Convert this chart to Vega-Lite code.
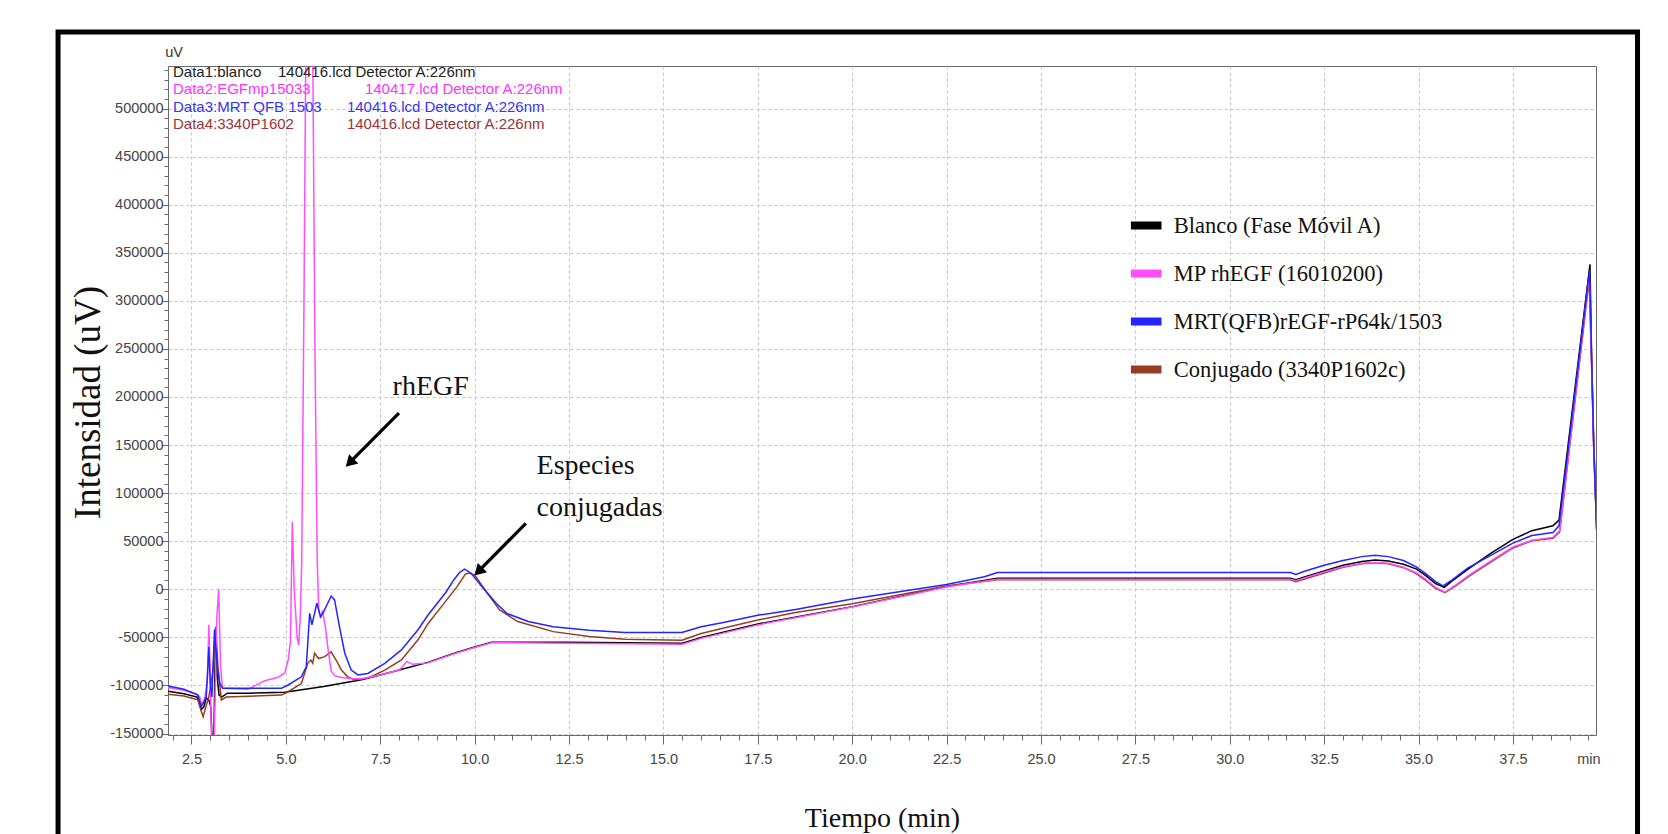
{
  "$schema": "https://vega.github.io/schema/vega-lite/v6.json",
  "width": 1428,
  "height": 669,
  "autosize": {"type": "none"},
  "padding": {"left": 168, "top": 66, "right": 72, "bottom": 99},
  "background": "white",
  "config": {
    "font": "Liberation Sans",
    "view": {"stroke": "#6a6a6a", "strokeWidth": 1}
  },
  "resolve": {"axis": {"x": "independent", "y": "independent"}},
  "layer": [
    {
      "data": {"values": [{}]},
      "mark": {"type": "rect", "filled": false, "stroke": "black", "strokeWidth": 5, "clip": false, "fill": "transparent"},
      "encoding": {
        "x": {"datum": -1.034, "type": "quantitative", "axis": null},
        "x2": {"datum": 40.8},
        "y": {"datum": 579600, "type": "quantitative", "axis": null},
        "y2": {"datum": -271000}
      }
    },
    {
      "data": {"values": [
        {"s":"B","t":1.88,"v":-106000},{"s":"B","t":2.3,"v":-108500},{"s":"B","t":2.65,"v":-112000},{"s":"B","t":2.76,"v":-125000},{"s":"B","t":2.83,"v":-122000},{"s":"B","t":2.89,"v":-113000},{"s":"B","t":2.96,"v":-115000},{"s":"B","t":3.01,"v":-122000},{"s":"B","t":3.05,"v":-160000},{"s":"B","t":3.09,"v":-160000},{"s":"B","t":3.14,"v":-40000},{"s":"B","t":3.18,"v":-90000},{"s":"B","t":3.23,"v":-110000},{"s":"B","t":3.3,"v":-112000},{"s":"B","t":3.45,"v":-108000},{"s":"B","t":4.0,"v":-108000},{"s":"B","t":4.97,"v":-107000},{"s":"B","t":6.0,"v":-101000},{"s":"B","t":7.0,"v":-94000},{"s":"B","t":7.5,"v":-89000},{"s":"B","t":8.0,"v":-84000},{"s":"B","t":8.76,"v":-76000},{"s":"B","t":9.5,"v":-66000},{"s":"B","t":10.0,"v":-60000},{"s":"B","t":10.45,"v":-55000},{"s":"B","t":12.5,"v":-55000},{"s":"B","t":15.5,"v":-56000},{"s":"B","t":16.0,"v":-50000},{"s":"B","t":17.5,"v":-36000},{"s":"B","t":20.0,"v":-18000},{"s":"B","t":22.5,"v":3000},{"s":"B","t":23.85,"v":11500},{"s":"B","t":31.6,"v":11500},{"s":"B","t":31.75,"v":10000},{"s":"B","t":32.0,"v":13000},{"s":"B","t":32.5,"v":19000},{"s":"B","t":33.0,"v":25000},{"s":"B","t":33.5,"v":29000},{"s":"B","t":33.85,"v":30500},{"s":"B","t":34.2,"v":29500},{"s":"B","t":34.6,"v":26000},{"s":"B","t":34.95,"v":21000},{"s":"B","t":35.2,"v":14000},{"s":"B","t":35.45,"v":6000},{"s":"B","t":35.68,"v":2000},{"s":"B","t":35.9,"v":9000},{"s":"B","t":36.35,"v":22000},{"s":"B","t":36.9,"v":37000},{"s":"B","t":37.5,"v":52000},{"s":"B","t":38.0,"v":61000},{"s":"B","t":38.56,"v":66000},{"s":"B","t":38.72,"v":72000},{"s":"B","t":39.54,"v":338000},{"s":"B","t":39.58,"v":250000},{"s":"B","t":39.64,"v":150000},{"s":"B","t":39.72,"v":60000},
        {"s":"C","t":1.88,"v":-109000},{"s":"C","t":2.3,"v":-111000},{"s":"C","t":2.67,"v":-115000},{"s":"C","t":2.76,"v":-127000},{"s":"C","t":2.81,"v":-132500},{"s":"C","t":2.88,"v":-122000},{"s":"C","t":2.96,"v":-112000},{"s":"C","t":3.07,"v":-84000},{"s":"C","t":3.14,"v":-39000},{"s":"C","t":3.2,"v":-80000},{"s":"C","t":3.29,"v":-115000},{"s":"C","t":3.42,"v":-112000},{"s":"C","t":4.88,"v":-110000},{"s":"C","t":5.06,"v":-106500},{"s":"C","t":5.41,"v":-98000},{"s":"C","t":5.58,"v":-77000},{"s":"C","t":5.66,"v":-73500},{"s":"C","t":5.71,"v":-77000},{"s":"C","t":5.76,"v":-66500},{"s":"C","t":5.87,"v":-72000},{"s":"C","t":6.03,"v":-70000},{"s":"C","t":6.2,"v":-65000},{"s":"C","t":6.33,"v":-73500},{"s":"C","t":6.47,"v":-84000},{"s":"C","t":6.64,"v":-91000},{"s":"C","t":6.82,"v":-94000},{"s":"C","t":7.17,"v":-92500},{"s":"C","t":7.62,"v":-84000},{"s":"C","t":8.06,"v":-73500},{"s":"C","t":8.5,"v":-52500},{"s":"C","t":8.76,"v":-36000},{"s":"C","t":9.0,"v":-24000},{"s":"C","t":9.24,"v":-12000},{"s":"C","t":9.53,"v":2500},{"s":"C","t":9.76,"v":16000},{"s":"C","t":9.85,"v":17000},{"s":"C","t":10.0,"v":15000},{"s":"C","t":10.28,"v":-1000},{"s":"C","t":10.66,"v":-21500},{"s":"C","t":11.14,"v":-33500},{"s":"C","t":12.08,"v":-44000},{"s":"C","t":13.03,"v":-49000},{"s":"C","t":13.98,"v":-52000},{"s":"C","t":15.49,"v":-53000},{"s":"C","t":16.0,"v":-46000},{"s":"C","t":16.52,"v":-41000},{"s":"C","t":17.5,"v":-32000},{"s":"C","t":18.5,"v":-24000},{"s":"C","t":20.0,"v":-15000},{"s":"C","t":22.5,"v":3500},{"s":"C","t":23.85,"v":10000},{"s":"C","t":31.6,"v":10000},{"s":"C","t":31.75,"v":8000},{"s":"C","t":32.0,"v":11000},{"s":"C","t":32.5,"v":17000},{"s":"C","t":33.0,"v":23000},{"s":"C","t":33.5,"v":26500},{"s":"C","t":33.85,"v":27500},{"s":"C","t":34.2,"v":26500},{"s":"C","t":34.6,"v":22500},{"s":"C","t":34.95,"v":16000},{"s":"C","t":35.2,"v":9000},{"s":"C","t":35.45,"v":1000},{"s":"C","t":35.7,"v":-3500},{"s":"C","t":36.0,"v":4000},{"s":"C","t":36.35,"v":14000},{"s":"C","t":36.9,"v":28000},{"s":"C","t":37.5,"v":43000},{"s":"C","t":38.0,"v":50500},{"s":"C","t":38.56,"v":53000},{"s":"C","t":38.74,"v":60000},{"s":"C","t":39.52,"v":322000},{"s":"C","t":39.58,"v":238000},{"s":"C","t":39.64,"v":148000},{"s":"C","t":39.72,"v":60000},
        {"s":"M","t":1.88,"v":-102000},{"s":"M","t":2.3,"v":-105000},{"s":"M","t":2.65,"v":-109000},{"s":"M","t":2.72,"v":-112000},{"s":"M","t":2.77,"v":-120000},{"s":"M","t":2.85,"v":-114000},{"s":"M","t":2.92,"v":-95000},{"s":"M","t":2.96,"v":-37000},{"s":"M","t":3.0,"v":-95000},{"s":"M","t":3.03,"v":-160000},{"s":"M","t":3.1,"v":-160000},{"s":"M","t":3.17,"v":-30000},{"s":"M","t":3.22,"v":0},{"s":"M","t":3.27,"v":-80000},{"s":"M","t":3.32,"v":-103000},{"s":"M","t":4.0,"v":-104000},{"s":"M","t":4.44,"v":-95000},{"s":"M","t":4.79,"v":-91500},{"s":"M","t":4.97,"v":-87000},{"s":"M","t":5.06,"v":-74000},{"s":"M","t":5.12,"v":-55000},{"s":"M","t":5.17,"v":70000},{"s":"M","t":5.22,"v":0},{"s":"M","t":5.3,"v":-50000},{"s":"M","t":5.34,"v":-58000},{"s":"M","t":5.38,"v":-30000},{"s":"M","t":5.42,"v":30000},{"s":"M","t":5.48,"v":300000},{"s":"M","t":5.52,"v":520000},{"s":"M","t":5.58,"v":780000},{"s":"M","t":5.66,"v":780000},{"s":"M","t":5.72,"v":520000},{"s":"M","t":5.77,"v":250000},{"s":"M","t":5.83,"v":30000},{"s":"M","t":5.87,"v":-22000},{"s":"M","t":5.92,"v":-30000},{"s":"M","t":5.97,"v":-22000},{"s":"M","t":6.05,"v":-40000},{"s":"M","t":6.12,"v":-63000},{"s":"M","t":6.2,"v":-85000},{"s":"M","t":6.3,"v":-90000},{"s":"M","t":6.5,"v":-92000},{"s":"M","t":6.8,"v":-93000},{"s":"M","t":7.0,"v":-93000},{"s":"M","t":7.5,"v":-89000},{"s":"M","t":8.0,"v":-84000},{"s":"M","t":8.1,"v":-80000},{"s":"M","t":8.2,"v":-75000},{"s":"M","t":8.35,"v":-78000},{"s":"M","t":8.76,"v":-76500},{"s":"M","t":9.5,"v":-66500},{"s":"M","t":10.0,"v":-60500},{"s":"M","t":10.45,"v":-55500},{"s":"M","t":12.5,"v":-56000},{"s":"M","t":15.5,"v":-57000},{"s":"M","t":16.0,"v":-51000},{"s":"M","t":17.5,"v":-37000},{"s":"M","t":20.0,"v":-18500},{"s":"M","t":22.5,"v":2500},{"s":"M","t":23.85,"v":10500},{"s":"M","t":31.6,"v":10500},{"s":"M","t":31.75,"v":9000},{"s":"M","t":32.0,"v":12000},{"s":"M","t":32.5,"v":18000},{"s":"M","t":33.0,"v":23500},{"s":"M","t":33.5,"v":27000},{"s":"M","t":33.85,"v":28000},{"s":"M","t":34.2,"v":27000},{"s":"M","t":34.6,"v":23000},{"s":"M","t":34.95,"v":17000},{"s":"M","t":35.2,"v":10000},{"s":"M","t":35.45,"v":2000},{"s":"M","t":35.7,"v":-3000},{"s":"M","t":36.0,"v":5000},{"s":"M","t":36.35,"v":15000},{"s":"M","t":36.9,"v":29000},{"s":"M","t":37.5,"v":44000},{"s":"M","t":38.0,"v":51000},{"s":"M","t":38.56,"v":54000},{"s":"M","t":38.74,"v":61000},{"s":"M","t":39.52,"v":326000},{"s":"M","t":39.58,"v":240000},{"s":"M","t":39.64,"v":148000},{"s":"M","t":39.72,"v":60000},
        {"s":"Q","t":1.88,"v":-100500},{"s":"Q","t":2.3,"v":-104000},{"s":"Q","t":2.67,"v":-110000},{"s":"Q","t":2.76,"v":-122000},{"s":"Q","t":2.83,"v":-117000},{"s":"Q","t":2.89,"v":-112000},{"s":"Q","t":2.93,"v":-84000},{"s":"Q","t":2.96,"v":-60000},{"s":"Q","t":3.0,"v":-100000},{"s":"Q","t":3.04,"v":-112000},{"s":"Q","t":3.11,"v":-42000},{"s":"Q","t":3.18,"v":-80000},{"s":"Q","t":3.25,"v":-98000},{"s":"Q","t":3.33,"v":-103000},{"s":"Q","t":4.88,"v":-103000},{"s":"Q","t":5.06,"v":-99500},{"s":"Q","t":5.41,"v":-91000},{"s":"Q","t":5.54,"v":-80500},{"s":"Q","t":5.63,"v":-25000},{"s":"Q","t":5.69,"v":-37000},{"s":"Q","t":5.82,"v":-14500},{"s":"Q","t":5.92,"v":-28500},{"s":"Q","t":5.98,"v":-25000},{"s":"Q","t":6.2,"v":-7000},{"s":"Q","t":6.29,"v":-11000},{"s":"Q","t":6.42,"v":-39000},{"s":"Q","t":6.56,"v":-66500},{"s":"Q","t":6.73,"v":-84000},{"s":"Q","t":6.91,"v":-89000},{"s":"Q","t":7.17,"v":-87500},{"s":"Q","t":7.62,"v":-77000},{"s":"Q","t":8.06,"v":-63000},{"s":"Q","t":8.5,"v":-42000},{"s":"Q","t":8.76,"v":-27000},{"s":"Q","t":9.0,"v":-15000},{"s":"Q","t":9.24,"v":-3000},{"s":"Q","t":9.45,"v":10000},{"s":"Q","t":9.6,"v":17500},{"s":"Q","t":9.73,"v":21000},{"s":"Q","t":9.9,"v":17000},{"s":"Q","t":10.19,"v":3000},{"s":"Q","t":10.57,"v":-14500},{"s":"Q","t":10.85,"v":-25000},{"s":"Q","t":11.42,"v":-33500},{"s":"Q","t":12.08,"v":-39000},{"s":"Q","t":13.03,"v":-42500},{"s":"Q","t":13.98,"v":-45000},{"s":"Q","t":15.49,"v":-45000},{"s":"Q","t":16.0,"v":-39000},{"s":"Q","t":16.52,"v":-35000},{"s":"Q","t":17.5,"v":-27000},{"s":"Q","t":18.5,"v":-21000},{"s":"Q","t":20.0,"v":-10000},{"s":"Q","t":21.5,"v":-1000},{"s":"Q","t":22.5,"v":5000},{"s":"Q","t":23.5,"v":13000},{"s":"Q","t":23.85,"v":17500},{"s":"Q","t":31.6,"v":17500},{"s":"Q","t":31.75,"v":15500},{"s":"Q","t":32.0,"v":19000},{"s":"Q","t":32.5,"v":25000},{"s":"Q","t":33.0,"v":30000},{"s":"Q","t":33.5,"v":34000},{"s":"Q","t":33.85,"v":35500},{"s":"Q","t":34.2,"v":34000},{"s":"Q","t":34.6,"v":30000},{"s":"Q","t":34.95,"v":23000},{"s":"Q","t":35.2,"v":16000},{"s":"Q","t":35.45,"v":8000},{"s":"Q","t":35.65,"v":3500},{"s":"Q","t":35.9,"v":10000},{"s":"Q","t":36.3,"v":22000},{"s":"Q","t":36.9,"v":35000},{"s":"Q","t":37.5,"v":48000},{"s":"Q","t":38.0,"v":56000},{"s":"Q","t":38.56,"v":59000},{"s":"Q","t":38.72,"v":66000},{"s":"Q","t":39.53,"v":332000},{"s":"Q","t":39.58,"v":245000},{"s":"Q","t":39.64,"v":150000},{"s":"Q","t":39.72,"v":60000}
      ]},
      "mark": {"type": "line", "strokeWidth": 1.5, "clip": true},
      "encoding": {
        "x": {
          "field": "t", "type": "quantitative",
          "scale": {"domain": [1.878, 39.7], "nice": false, "zero": false},
          "axis": {
            "orient": "bottom",
            "values": [2,2.5,3,3.5,4,4.5,5,5.5,6,6.5,7,7.5,8,8.5,9,9.5,10,10.5,11,11.5,12,12.5,13,13.5,14,14.5,15,15.5,16,16.5,17,17.5,18,18.5,19,19.5,20,20.5,21,21.5,22,22.5,23,23.5,24,24.5,25,25.5,26,26.5,27,27.5,28,28.5,29,29.5,30,30.5,31,31.5,32,32.5,33,33.5,34,34.5,35,35.5,36,36.5,37,37.5,38,38.5,39,39.5],
            "labelExpr": "datum.value === 39.5 ? 'min' : (datum.value % 2.5 === 0 ? format(datum.value, '.1f') : '')",
            "labelOverlap": false,
            "labelFlush": false,
            "labelBound": false,
            "labelFont": "Liberation Sans",
            "labelFontSize": 14.5,
            "labelColor": "#444444",
            "labelPadding": {"condition": {"test": "datum.value % 2.5 === 0", "value": 8}, "value": 12},
            "tickColor": "#6a6a6a",
            "tickSize": {"condition": {"test": "datum.value % 2.5 === 0", "value": 9}, "value": 5},
            "domainColor": "#6a6a6a",
            "grid": true,
            "gridColor": "#c4c4c4",
            "gridDash": [3, 3],
            "gridOpacity": {"condition": {"test": "datum.value % 2.5 === 0", "value": 1}, "value": 0},
            "title": "Tiempo (min)",
            "titleFont": "Liberation Serif",
            "titleFontSize": 28,
            "titleFontWeight": "normal",
            "titleColor": "#111111",
            "titleBaseline": "alphabetic",
            "titleY": 91
          }
        },
        "y": {
          "field": "v", "type": "quantitative",
          "scale": {"domain": [-151500, 544200], "nice": false, "zero": false},
          "axis": {
            "orient": "left",
            "values": [-150000,-140000,-130000,-120000,-110000,-100000,-90000,-80000,-70000,-60000,-50000,-40000,-30000,-20000,-10000,0,10000,20000,30000,40000,50000,60000,70000,80000,90000,100000,110000,120000,130000,140000,150000,160000,170000,180000,190000,200000,210000,220000,230000,240000,250000,260000,270000,280000,290000,300000,310000,320000,330000,340000,350000,360000,370000,380000,390000,400000,410000,420000,430000,440000,450000,460000,470000,480000,490000,500000,510000,520000,530000,540000],
            "labelExpr": "datum.value % 50000 === 0 ? '' + datum.value : ''",
            "labelOverlap": false,
            "labelFlush": false,
            "labelBound": false,
            "labelFont": "Liberation Sans",
            "labelFontSize": 14.5,
            "labelColor": "#444444",
            "labelPadding": -1,
            "tickColor": "#6a6a6a",
            "tickSize": {"condition": {"test": "datum.value % 50000 === 0", "value": 6}, "value": 4},
            "domainColor": "#6a6a6a",
            "grid": true,
            "gridColor": "#c4c4c4",
            "gridDash": [3, 3],
            "gridOpacity": {"condition": {"test": "datum.value % 50000 === 0", "value": 1}, "value": 0},
            "title": "Intensidad (uV)",
            "titleFont": "Liberation Serif",
            "titleFontSize": 37,
            "titleFontWeight": "normal",
            "titleColor": "#111111",
            "titleAngle": 270,
            "titleAlign": "center",
            "titleBaseline": "alphabetic",
            "titleX": -69,
            "titleY": 336
          }
        },
        "color": {
          "field": "s", "type": "nominal",
          "scale": {"domain": ["B", "M", "Q", "C"], "range": ["#000000", "#ff4dff", "#2424ff", "#963c22"]},
          "legend": {
            "orient": "none",
            "legendX": 958.7,
            "legendY": 140,
            "title": null,
            "padding": 0,
            "symbolType": "stroke",
            "symbolSize": 936,
            "symbolStrokeWidth": 8,
            "symbolOpacity": 1,
            "labelFont": "Liberation Serif",
            "labelFontSize": 22.5,
            "labelColor": "#111111",
            "labelOffset": 8,
            "labelLimit": 0,
            "rowPadding": 12,
            "labelExpr": "datum.label === 'B' ? 'Blanco (Fase Móvil A)' : datum.label === 'M' ? 'MP rhEGF (16010200)' : datum.label === 'Q' ? 'MRT(QFB)rEGF-rP64k/1503' : 'Conjugado (3340P1602c)'"
          }
        }
      }
    },
    {
      "data": {"values": [{}]},
      "mark": {"type": "text", "align": "center", "baseline": "middle", "fontSize": 14.5, "color": "#333333", "font": "Liberation Sans"},
      "encoding": {"x": {"datum": 2.037, "type": "quantitative", "axis": null}, "y": {"datum": 557700, "type": "quantitative", "axis": null}, "text": {"value": "uV"}}
    },
    {
      "data": {"values": [{}]},
      "mark": {"type": "text", "align": "left", "baseline": "middle", "fontSize": 15, "color": "#222222", "font": "Liberation Sans"},
      "encoding": {"x": {"datum": 2.01, "type": "quantitative", "axis": null}, "y": {"datum": 538300, "type": "quantitative", "axis": null}, "text": {"value": "Data1:blanco"}}
    },
    {
      "data": {"values": [{}]},
      "mark": {"type": "text", "align": "left", "baseline": "middle", "fontSize": 15, "color": "#222222", "font": "Liberation Sans"},
      "encoding": {"x": {"datum": 4.79, "type": "quantitative", "axis": null}, "y": {"datum": 538300, "type": "quantitative", "axis": null}, "text": {"value": "140416.lcd Detector A:226nm"}}
    },
    {
      "data": {"values": [{}]},
      "mark": {"type": "text", "align": "left", "baseline": "middle", "fontSize": 15, "color": "#ff33ff", "font": "Liberation Sans"},
      "encoding": {"x": {"datum": 2.01, "type": "quantitative", "axis": null}, "y": {"datum": 520000, "type": "quantitative", "axis": null}, "text": {"value": "Data2:EGFmp15033"}}
    },
    {
      "data": {"values": [{}]},
      "mark": {"type": "text", "align": "left", "baseline": "middle", "fontSize": 15, "color": "#ff33ff", "font": "Liberation Sans"},
      "encoding": {"x": {"datum": 7.094, "type": "quantitative", "axis": null}, "y": {"datum": 520000, "type": "quantitative", "axis": null}, "text": {"value": "140417.lcd Detector A:226nm"}}
    },
    {
      "data": {"values": [{}]},
      "mark": {"type": "text", "align": "left", "baseline": "middle", "fontSize": 15, "color": "#3535ee", "font": "Liberation Sans"},
      "encoding": {"x": {"datum": 2.01, "type": "quantitative", "axis": null}, "y": {"datum": 501900, "type": "quantitative", "axis": null}, "text": {"value": "Data3:MRT QFB 1503"}}
    },
    {
      "data": {"values": [{}]},
      "mark": {"type": "text", "align": "left", "baseline": "middle", "fontSize": 15, "color": "#3535ee", "font": "Liberation Sans"},
      "encoding": {"x": {"datum": 6.617, "type": "quantitative", "axis": null}, "y": {"datum": 501900, "type": "quantitative", "axis": null}, "text": {"value": "140416.lcd Detector A:226nm"}}
    },
    {
      "data": {"values": [{}]},
      "mark": {"type": "text", "align": "left", "baseline": "middle", "fontSize": 15, "color": "#9a3535", "font": "Liberation Sans"},
      "encoding": {"x": {"datum": 2.01, "type": "quantitative", "axis": null}, "y": {"datum": 483900, "type": "quantitative", "axis": null}, "text": {"value": "Data4:3340P1602"}}
    },
    {
      "data": {"values": [{}]},
      "mark": {"type": "text", "align": "left", "baseline": "middle", "fontSize": 15, "color": "#9a3535", "font": "Liberation Sans"},
      "encoding": {"x": {"datum": 6.617, "type": "quantitative", "axis": null}, "y": {"datum": 483900, "type": "quantitative", "axis": null}, "text": {"value": "140416.lcd Detector A:226nm"}}
    },
    {
      "data": {"values": [{}]},
      "mark": {"type": "text", "align": "left", "baseline": "alphabetic", "fontSize": 28, "color": "#111111", "font": "Liberation Serif"},
      "encoding": {"x": {"datum": 7.827, "type": "quantitative", "axis": null}, "y": {"datum": 202100, "type": "quantitative", "axis": null}, "text": {"value": "rhEGF"}}
    },
    {
      "data": {"values": [{}]},
      "mark": {"type": "text", "align": "left", "baseline": "alphabetic", "fontSize": 28, "color": "#111111", "font": "Liberation Serif"},
      "encoding": {"x": {"datum": 11.64, "type": "quantitative", "axis": null}, "y": {"datum": 119900, "type": "quantitative", "axis": null}, "text": {"value": "Especies"}}
    },
    {
      "data": {"values": [{}]},
      "mark": {"type": "text", "align": "left", "baseline": "alphabetic", "fontSize": 28, "color": "#111111", "font": "Liberation Serif"},
      "encoding": {"x": {"datum": 11.64, "type": "quantitative", "axis": null}, "y": {"datum": 76500, "type": "quantitative", "axis": null}, "text": {"value": "conjugadas"}}
    },
    {
      "data": {"values": [{}]},
      "mark": {"type": "rule", "color": "black", "strokeWidth": 3.2},
      "encoding": {"x": {"datum": 7.994, "type": "quantitative", "axis": null}, "y": {"datum": 183300, "type": "quantitative", "axis": null}, "x2": {"datum": 6.721}, "y2": {"datum": 133000}}
    },
    {
      "data": {"values": [{}]},
      "mark": {"type": "point", "shape": "triangle-up", "filled": true, "color": "black", "opacity": 1, "size": 170, "angle": 225},
      "encoding": {"x": {"datum": 6.69, "type": "quantitative", "axis": null}, "y": {"datum": 131500, "type": "quantitative", "axis": null}}
    },
    {
      "data": {"values": [{}]},
      "mark": {"type": "rule", "color": "black", "strokeWidth": 3.2},
      "encoding": {"x": {"datum": 11.356, "type": "quantitative", "axis": null}, "y": {"datum": 68600, "type": "quantitative", "axis": null}, "x2": {"datum": 10.131}, "y2": {"datum": 19900}}
    },
    {
      "data": {"values": [{}]},
      "mark": {"type": "point", "shape": "triangle-up", "filled": true, "color": "black", "opacity": 1, "size": 170, "angle": 225},
      "encoding": {"x": {"datum": 10.1, "type": "quantitative", "axis": null}, "y": {"datum": 18400, "type": "quantitative", "axis": null}}
    }
  ]
}
